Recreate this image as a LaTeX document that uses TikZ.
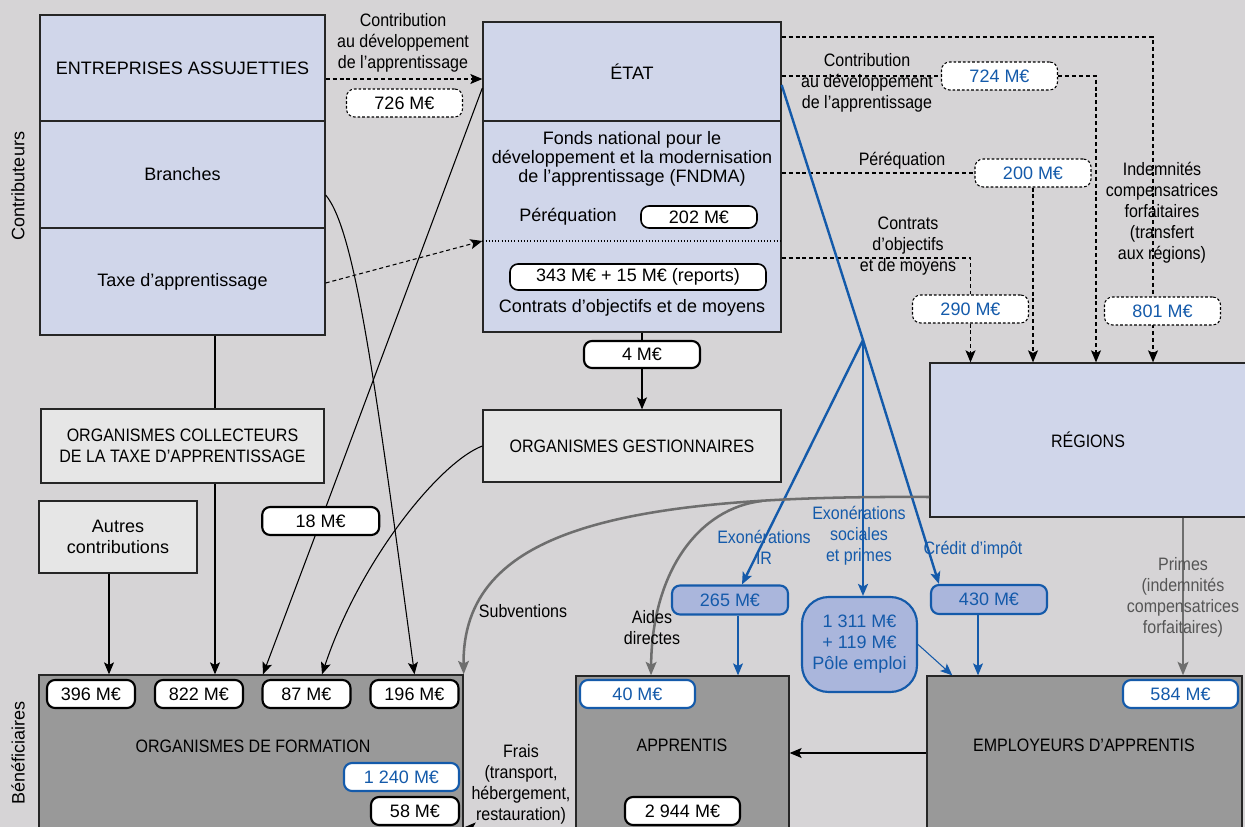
\documentclass[tikz,border=0pt]{standalone}
\usepackage{fontspec}
\setmainfont{Liberation Sans}
\newfontfamily\condfont{Liberation Sans}[FakeStretch=0.89]
\usetikzlibrary{arrows.meta,calc}

\definecolor{bgcol}{RGB}{214,212,214}
\definecolor{lblue}{RGB}{208,214,234}
\definecolor{lgrey}{RGB}{230,230,230}
\definecolor{dgrey}{RGB}{153,153,153}
\definecolor{mblue}{RGB}{20,90,170}
\definecolor{fblue}{RGB}{170,182,220}
\definecolor{arrgrey}{RGB}{110,110,110}
\definecolor{primegrey}{RGB}{85,85,85}

\tikzset{
  every node/.style={font=\fontsize{13.5}{15.75}\selectfont, align=center, inner sep=0pt},
  wh/.style 2 args={minimum width=#1*0.75pt, minimum height=#2*0.75pt},
  cond/.style={font=\condfont\fontsize{13.5}{15.75}\selectfont},
  topbox/.style={draw=black!85, line width=1pt, fill=lblue},
  midbox/.style={draw=black!85, line width=1pt, fill=lgrey},
  endbox/.style={draw=black!85, line width=1pt, fill=dgrey, cond},
  val/.style={draw=black, line width=1.6pt, fill=white, rounded corners=6pt, wh={116}{28}},
  bval/.style={val, draw=mblue, text=mblue},
  bfill/.style={val, draw=mblue, fill=fblue, text=mblue},
  dval/.style={val, line width=0.8pt, dash pattern=on 2pt off 1.5pt},
  lab/.style={cond},
  tip/.style={-{Stealth[length=9pt,width=7.5pt,inset=2pt]}},
  line/.style={draw=black, line width=0.8pt},
  flow/.style={line, tip},
  dflow/.style={flow, dash pattern=on 3pt off 2.2pt},
  bline/.style={draw=mblue, line width=1.8pt},
  bflow/.style={bline, tip},
  bthin/.style={draw=mblue, line width=0.8pt, tip},
  gflow/.style={draw=arrgrey, line width=1.9pt, -{Stealth[length=10pt,width=8pt,inset=2pt]}}
}

\begin{document}
\begin{tikzpicture}[x=0.75pt,y=0.75pt,yscale=-1,xscale=1]
\path[use as bounding box] (0,0) rectangle (1245,827);
\clip (0,0) rectangle (1245,827);
\fill[bgcol] (0,0) rectangle (1245,827);

% Contributeurs
\node[topbox, wh={285}{106}] (ent) at (182.5,68) {ENTREPRISES ASSUJETTIES};
\node[topbox, wh={285}{107}] (bra) at (182.5,174.5) {Branches};
\node[topbox, wh={285}{107}] (taxe) at (182.5,281.5) {Taxe d’apprentissage};
\node[rotate=90] (contriblab) at (18,186) {Contributeurs};

% Etat and FNDMA
\node[topbox, wh={298}{99}] (etat) at (632,71.5) {ÉTAT};
\node[topbox, wh={298}{211}] (fndma) at (632,226.5) {};
\node[font=\fontsize{13.5}{14.5}\selectfont] (fndmalab) at (632,159) {Fonds national pour le\\développement et la modernisation\\de l’apprentissage (FNDMA)};
\node (peqlab) at (568,217) {Péréquation};
\node[val, wh={116}{22}, line width=1.2pt] (v202) at (699,217) {202 M€};
\draw[line, dash pattern=on 0.8pt off 1.6pt] ($(fndma.west)+(0,14.5)$) -- ($(fndma.east)+(0,14.5)$);
\node[val, wh={256}{26}, line width=1.2pt] (v343) at (638,277) {343 M€ + 15 M€ (reports)};
\node (cmlab) at (632,308) {Contrats d’objectifs et de moyens};

% Intermediaires
\node[midbox, cond, wh={283}{74}] (coll) at (182.5,446) {ORGANISMES COLLECTEURS\\DE LA TAXE D’APPRENTISSAGE};
\node[midbox, wh={158}{72}] (autres) at (118,537) {Autres\\contributions};
\node[midbox, cond, wh={298}{72}] (gest) at (632,446) {ORGANISMES GESTIONNAIRES};
\node[topbox, cond, wh={316}{154}] (regions) at (1088,440) {RÉGIONS};

% Beneficiaires
\node[endbox, wh={424}{167}] (form) at (251,758.5) {};
\node[cond] (formlab) at (253,746) {ORGANISMES DE FORMATION};
\node[endbox, wh={213}{165}] (appr) at (682.5,758.5) {};
\node[cond] (apprlab) at (682,745) {APPRENTIS};
\node[endbox, wh={315}{165}] (empl) at (1084.5,758.5) {};
\node[cond] (empllab) at (1084,745) {EMPLOYEURS D’APPRENTIS};
\node[rotate=90] (benlab) at (18,753) {Bénéficiaires};

% columns
\coordinate (autx) at (109,0);
\coordinate (colx) at (215,0);
\coordinate (lx) at (263,0);
\coordinate (gx) at (322,0);
\coordinate (aidx) at (651,0);
\coordinate (c3) at (1096,0);
\coordinate (c4) at (1153,0);
\coordinate (px) at (1183,0);
\coordinate (fan) at (863,340);
\coordinate (split) at (762,501);

% flows towards Etat
\draw[dflow] ($(ent.east)+(0,11)$) -- ($(etat.west)+(0,7.5)$);
\draw[dflow] ($(taxe.east)+(0,1.5)$) -- ($(fndma.west)+(0,14.5)$);
\node[lab] (contlab) at (403,43) {Contribution\\au développement\\de l’apprentissage};
\node[dval] (v726) at (404.5,103) {726 M€};

% flows from Etat to regions
\draw[dflow] ($(etat.east)+(0,-34.5)$) -| (regions.north -| c4);
\node[dval, text=mblue] (v801) at (1162.5,311) {801 M€};
\node[dval, text=mblue] (v724) at (999.5,76) {724 M€};
\draw[line, dash pattern=on 3pt off 2.2pt] ($(etat.east)+(0,4.5)$) -- (v724.west);
\draw[dflow] (v724.east) -| (regions.north -| c3);
\node[dval, text=mblue] (v200) at (1033,173) {200 M€};
\draw[line, dash pattern=on 3pt off 2.2pt] ($(fndma.east)+(0,-53.5)$) -- (v200.west);
\draw[dflow] (v200.south) -- (regions.north -| v200);
\node[dval, text=mblue] (v290) at (970.5,309) {290 M€};
\draw[line, dash pattern=on 3pt off 2.2pt] ($(fndma.east)+(0,31.5)$) -| (v290.north);
\draw[dflow] (v290.south) -- (regions.north -| v290);
\node[lab] (contrlab) at (867,83) {Contribution\\au développement\\de l’apprentissage};
\node[lab] (peqrlab) at (902,161) {Péréquation};
\node[lab] (cmrlab) at (908,246) {Contrats\\d’objectifs\\et de moyens};
\node[lab] (indlab) at (1162,213) {Indemnités\\compensatrices\\forfaitaires\\(transfert\\aux régions)};

% flows to organismes de formation
\draw[line] (taxe.south -| colx) -- (coll.north -| colx);
\draw[flow] (coll.south -| colx) -- (form.north -| colx);
\draw[flow] (autres.south -| autx) -- (form.north -| autx);
\node[val, wh={117}{28}] (v18) at (320.7,521) {18 M€};
\draw[line] ($(etat.west)+(0,16.5)$) -- (v18);
\draw[flow] (v18) -- (form.north -| lx);
\draw[flow] ($(bra.east)+(0,20.5)$) .. controls (355,230) and (375,380) .. (form.north -| 414.5,0);
\draw[flow] (gest.west) .. controls (440,462) and (360,560) .. (form.north -| gx);
\node[val, wh={116}{27}] (v4) at (642,354.5) {4 M€};
\draw[line] (fndma.south -| v4) -- (v4);
\draw[flow] (v4) -- (gest.north -| v4);

% values in organismes de formation
\node[val, wh={88}{28}] (v396) at (91,694) {396 M€};
\node[val, wh={88}{28}] (v822) at (199,694) {822 M€};
\node[val, wh={88}{28}] (v87) at (306.5,694) {87 M€};
\node[val, wh={88}{28}] (v196) at (414.5,694) {196 M€};
\node[bval, wh={115}{28}] (v1240) at (401.5,777) {1 240 M€};
\node[val, wh={88}{28}] (v58) at (415,811) {58 M€};

% aides de l'Etat
\draw[bline] ($(etat.east)+(0,13.5)$) -- (fan);
\node[bfill, wh={116}{29}] (v265) at (730,600) {265 M€};
\node[bfill, wh={115}{95}, rounded corners=20pt] (v1311) at (859.5,644.5) {1 311 M€\\+ 119 M€\\Pôle emploi};
\node[bfill, wh={116}{29}] (v430) at (989,599.5) {430 M€};
\draw[bflow] (fan) -- ($(v265.north)+(12,0)$);
\draw[bflow] (fan) -- (v1311.north -| fan);
\draw[bflow] (fan) -- ($(v430.north west)+(9,0)$);
\coordinate (b1) at ($(v265.south)+(8,0)$);
\coordinate (b3) at ($(v430.south)+(-11,0)$);
\draw[bthin] (b1) -- (b1 |- appr.north);
\draw[bthin] (b3) -- (b3 |- empl.north);
\draw[bthin] (v1311.east) -- ($(empl.north west)+(26,0)$);
\node[lab, text=mblue] (exirlab) at (764,547) {Exonérations\\IR};
\node[lab, text=mblue] (exsoclab) at (859,536) {Exonérations\\sociales\\et primes};
\node[lab, text=mblue] (creditlab) at (973,550) {Crédit d’impôt};

% aides des regions
\draw[gflow] ($(regions.west)+(0,57)$) .. controls (620,495) and (462,530) .. (form.north east);
\draw[gflow] (split) .. controls (700,508) and (652,570) .. (appr.north -| aidx);
\draw[gflow] (regions.south -| px) -- (empl.north -| px);
\node[lab] (subvlab) at (523,611) {Subventions};
\node[lab] (aideslab) at (652,628) {Aides\\directes};
\node[lab, text=primegrey] (primeslab) at (1183,597) {Primes\\(indemnités\\compensatrices\\forfaitaires)};

% flows between beneficiaires
\draw[flow] ($(empl.west)+(0,-5.5)$) -- ($(appr.east)+(0,-5.5)$);
\draw[flow] ($(appr.west)+(0,69)$) -- ($(form.east)+(0,69)$);
\node[lab] (fraislab) at (521,784) {Frais\\(transport,\\hébergement,\\restauration)};

% values in apprentis and employeurs
\node[bval, wh={115}{28}] (v40) at (637.5,694) {40 M€};
\node[val, wh={115}{28}] (v2944) at (682.5,811) {2 944 M€};
\node[bval, wh={115}{28}] (v584) at (1180.5,694) {584 M€};

\end{tikzpicture}
\end{document}
